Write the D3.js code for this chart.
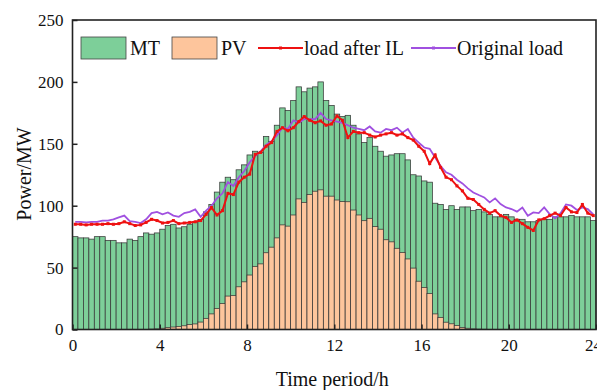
<!DOCTYPE html>
<html>
<head>
	<meta charset="utf-8">
	<title>MT PV load</title>
	<script src="https://cdn.jsdelivr.net/npm/d3@7"></script>
</head>
<style type="text/css">
	body { margin:0; background:#fff; }
	svg text { font-family:"Liberation Serif","Times New Roman",serif; fill:#111; }
</style>
<body>
</body>
</html>
<script type="text/javascript">
	// 96 slots of 15 min
	var periods = d3.range(96);
	var mt = [75, 74, 74, 73, 75, 75, 72, 72, 70, 70, 73, 72, 75, 78, 77, 78, 81, 84, 85, 82, 83, 85, 87, 89,
			  95, 101, 111, 119, 123, 121, 129, 133, 141, 144, 143, 156, 152, 165, 179, 177, 185, 196, 192, 195, 196, 200, 185, 181,
			  174, 172, 173, 165, 158, 151, 155, 148, 144, 140, 141, 142, 142, 137, 125, 124, 120, 119, 102, 101, 97, 100, 97, 99,
			  99, 96, 97, 95, 93, 91, 91, 93, 91, 89, 89, 87, 87, 88, 89, 89, 91, 91, 91, 92, 91, 91, 91, 88];
	var pv = [0, 0, 0, 0, 0, 0, 0, 0, 0, 0, 0, 0, 0, 0, 0.3, 0.5, 1, 1.5, 2, 2.5, 3, 4, 4.5, 6,
			  9, 12.6, 17, 21, 27, 27.4, 34.5, 38.5, 44, 51, 53, 62, 66.5, 74, 84.5, 83.5, 92.5, 105.5, 102.7, 109, 111.7, 112.8, 107.7, 107.7,
			  104.6, 103.3, 103.2, 96.5, 92.5, 87.9, 89.8, 83.1, 81, 72.5, 70.8, 65.6, 62.2, 57, 49.6, 39, 34, 29, 12.6, 9.8, 5.9, 4.6, 3.2, 1.7,
			  1, 0.5, 0.3, 0.2, 0.1, 0, 0, 0, 0, 0, 0, 0, 0, 0, 0, 0, 0, 0, 0, 0, 0, 0, 0, 0];
	var loadIL = [85, 85, 84.5, 85, 85, 85, 85.5, 85, 85.5, 87, 85.5, 84, 84.5, 86.5, 89, 88, 86, 86.5, 88, 85.5, 86, 86.5, 87, 88,
				  93, 98.5, 92.5, 96, 110, 109, 119, 123, 125.5, 141.5, 143, 148, 151, 160, 163, 160.5, 163, 168, 172, 169, 167, 168.5, 165, 166,
				  172.5, 169, 155, 160, 159, 159, 157, 155.5, 157, 158, 159, 157, 158, 155, 153, 148, 144, 134, 141, 131, 123, 121, 116, 112,
				  106, 105, 101, 97, 94, 96, 92, 90.5, 86.5, 88.5, 85.5, 82.5, 80, 88.5, 89.5, 92, 94, 92, 98.5, 95, 94.5, 101, 94, 92];
	var loadOrig = [87, 87, 86.5, 87, 87, 88, 88, 89, 90.5, 92, 87.5, 87, 86, 89, 94, 95, 93, 94.5, 92, 91, 94, 95, 97, 91,
					96, 100, 106, 110, 119, 116, 123, 128, 135, 140, 144, 149, 152, 157, 163, 162, 169, 167, 170, 170, 170, 175, 170, 169,
					168, 167, 165, 163, 162, 161, 164, 160, 159, 162, 161, 163, 159, 162, 155, 151, 147, 146, 139, 132, 127, 125, 121, 118,
					114, 110.7, 108.6, 106.7, 102.7, 105.9, 101.3, 98.6, 97.3, 95.2, 98.6, 91.9, 94.6, 94, 98.6, 93.3, 89.8, 94, 101, 100, 96.5, 98.6, 97.3, 93];
	var xTicks = [0, 4, 8, 12, 16, 20, 24];
	var yTicks = [0, 50, 100, 150, 200, 250];
	var legendNames = ["MT", "PV", "load after IL", "Original load"];

	var width = 597, height = 390;
	var margin = {left:72.5, right:1, top:20, bottom:60.5};
	var colMT = "#7dcf99", colPV = "#fdc59c", colIL = "#ee1111", colOrig = "#a050e0";

	var svg = d3.select("body").append("svg").attr("width", width).attr("height", height);

	var x = d3.scaleLinear().domain([0, 24]).range([margin.left, width - margin.right]);
	var xb = d3.scaleBand().domain(periods).range([margin.left, width - margin.right]).paddingInner(0);
	var y = d3.scaleLinear().domain([0, 250]).range([height - margin.bottom, margin.top]);

	// MT bars behind, PV bars in front
	svg.append("g").selectAll("rect").data(mt).enter().append("rect")
		.attr("x", function(d, i){ return xb(periods[i]); })
		.attr("width", xb.bandwidth())
		.attr("y", function(d){ return y(d); })
		.attr("height", function(d){ return y(0) - y(d); })
		.attr("fill", colMT).attr("stroke", "#383838").attr("stroke-width", 0.75);

	svg.append("g").selectAll("rect").data(pv).enter().append("rect")
		.attr("x", function(d, i){ return xb(periods[i]); })
		.attr("width", xb.bandwidth())
		.attr("y", function(d){ return y(d); })
		.attr("height", function(d){ return y(0) - y(d); })
		.attr("fill", colPV).attr("stroke", "#383838").attr("stroke-width", 0.75)
		.attr("stroke-opacity", function(d){ return d > 0 ? 1 : 0; });

	var line = d3.line()
		.x(function(d, i){ return xb(periods[i]) + xb.bandwidth() / 2; })
		.y(function(d){ return y(d); });

	svg.append("path").datum(loadOrig).attr("d", line)
		.attr("fill", "none").attr("stroke", colOrig).attr("stroke-width", 1.8);
	svg.append("path").datum(loadIL).attr("d", line)
		.attr("fill", "none").attr("stroke", colIL).attr("stroke-width", 2);
	svg.append("g").selectAll("rect").data(loadIL).enter().append("rect")
		.attr("x", function(d, i){ return xb(periods[i]) + xb.bandwidth() / 2 - 1.5; })
		.attr("y", function(d){ return y(d) - 1.5; })
		.attr("width", 3).attr("height", 3).attr("fill", colIL);

	// axes, ticks inside
	var gx = svg.append("g").attr("transform", "translate(0," + y(0) + ")")
		.call(d3.axisBottom(x).tickValues(xTicks).tickSize(-5).tickPadding(9));
	var gy = svg.append("g").attr("transform", "translate(" + margin.left + ",0)")
		.call(d3.axisLeft(y).tickValues(yTicks).tickSize(-5).tickPadding(9));
	[gx, gy].forEach(function(g){
		g.select(".domain").remove();
		g.selectAll("line").attr("stroke", "#222").attr("stroke-width", 1.5);
		g.selectAll("text").style("font-size", "17px").attr("fill", "#111");
	});
	// last x label sits at the right edge, as in the original
	gx.selectAll("text").filter(function(d){ return d === 24; }).attr("dx", -3);

	// frame
	svg.append("rect").attr("x", x(0)).attr("y", y(250))
		.attr("width", x(24) - x(0)).attr("height", y(0) - y(250))
		.attr("fill", "none").attr("stroke", "#222").attr("stroke-width", 1.6);

	svg.append("text").attr("x", (x(0) + x(24)) / 2 - 2).attr("y", 386)
		.attr("text-anchor", "middle").style("font-size", "20px").text("Time period/h");
	svg.append("text").attr("transform", "translate(31," + 174 + ") rotate(-90)")
		.attr("text-anchor", "middle").style("font-size", "20px").text("Power/MW");

	// legend
	var leg = svg.append("g");
	[[81, colMT], [172, colPV]].forEach(function(s, i){
		leg.append("rect").attr("x", s[0]).attr("y", 37).attr("width", 45).attr("height", 22)
			.attr("fill", s[1]).attr("stroke", "#444").attr("stroke-width", 0.8);
		leg.append("text").attr("x", s[0] + 49).attr("y", 55).style("font-size", "20px").text(legendNames[i]);
	});
	[[258, colIL, 2], [411, colOrig, 1.8]].forEach(function(s, i){
		leg.append("line").attr("x1", s[0]).attr("x2", s[0] + 45).attr("y1", 48).attr("y2", 48)
			.attr("stroke", s[1]).attr("stroke-width", s[2]);
		leg.append("rect").attr("x", s[0] + 21).attr("y", 46.5).attr("width", 3).attr("height", 3).attr("fill", s[1]);
		leg.append("text").attr("x", s[0] + 46).attr("y", 55).style("font-size", "20px").text(legendNames[i + 2]);
	});
</script>
